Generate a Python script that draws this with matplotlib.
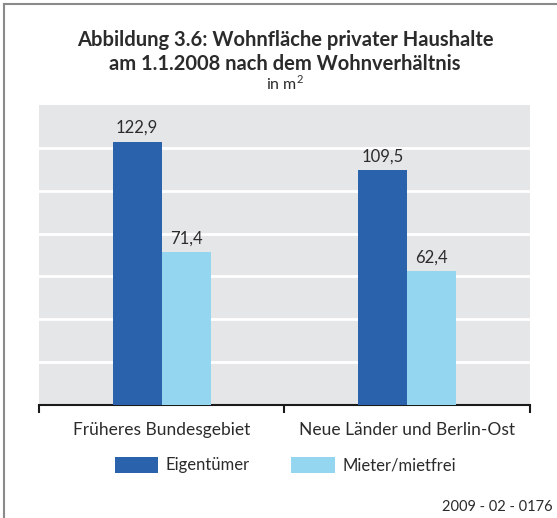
import numpy as np
import matplotlib
matplotlib.use('Agg')
import matplotlib.pyplot as plt
from matplotlib.lines import Line2D

plt.rcParams['font.family'] = ['Lato', 'DejaVu Sans']
plt.rcParams['mathtext.fontset'] = 'custom'
plt.rcParams['mathtext.rm'] = 'Lato'

# data
categories = ['Früheres Bundesgebiet', 'Neue Länder und Berlin-Ost']
series_names = ['Eigentümer', 'Mieter/mietfrei']
eigentuemer = [122.9, 109.5]
mieter = [71.4, 62.4]
source_note = '2009 - 02 - 0176'

dark_blue = '#2a62ac'
light_blue = '#94d6f0'
text_col = '#2b2b2b'

fig = plt.figure(figsize=(5.57, 5.18), dpi=100)
ax = fig.add_axes([0.070, 0.2181, 0.8815, 0.5792])

x = np.arange(len(categories))
w = 0.2
b1 = ax.bar(x - w / 2, eigentuemer, w, color=dark_blue, label=series_names[0], zorder=3)
b2 = ax.bar(x + w / 2, mieter, w, color=light_blue, label=series_names[1], zorder=3)

for bars, vals in [(b1, eigentuemer), (b2, mieter)]:
    ax.bar_label(bars, labels=[f"{v:.1f}".replace('.', ',') for v in vals],
                 padding=4, fontsize=12, color=text_col)

ax.set_facecolor('#e5e6e7')
ax.set_xlim(-0.5, 1.5)
ax.set_ylim(0, 140)
ax.set_yticks(np.arange(20, 140, 20))
ax.yaxis.grid(True, color='white', linewidth=2)
ax.tick_params(axis='y', length=0, labelleft=False)
for s in ['top', 'left', 'right']:
    ax.spines[s].set_visible(False)
ax.spines['bottom'].set_linewidth(1.5)
ax.spines['bottom'].set_color('#1a1a1a')
ax.set_axisbelow(True)

ax.set_xticks([-0.5, 0.5, 1.5])
ax.tick_params(axis='x', which='major', direction='out', length=6, width=1.5,
               color='#1a1a1a', labelbottom=False)
ax.set_xticks(x, categories, minor=True)
ax.tick_params(axis='x', which='minor', length=0, pad=12, labelsize=12.5,
               labelcolor=text_col)

fig.text(0.512, 0.9005, 'Abbildung 3.6: Wohnfläche privater Haushalte\nam 1.1.2008 nach dem Wohnverhältnis',
         ha='center', va='center', fontsize=14.5, fontweight='bold', color=text_col,
         linespacing=1.25)
fig.text(0.512, 0.839, 'in m$^2$', ha='center', va='center', fontsize=11.5, color=text_col)

fig.legend(handles=[b1, b2], labels=series_names, loc='center', ncol=2,
           bbox_to_anchor=(0.512, 0.1023), frameon=False, fontsize=12,
           handlelength=2.6, handleheight=1.15, handletextpad=0.45,
           columnspacing=2.5, labelcolor=text_col)

fig.text(0.992, 0.022, source_note, ha='right', va='center', fontsize=10.5, color=text_col)

# frame lines (top and left)
fig.add_artist(Line2D([0.008, 0.008], [0.0, 0.992], color='#8a8a8a', linewidth=1.5,
                      transform=fig.transFigure))
fig.add_artist(Line2D([0.008, 1.0], [0.992, 0.992], color='#8a8a8a', linewidth=1.5,
                      transform=fig.transFigure))

fig.savefig('out.png', dpi=100)
